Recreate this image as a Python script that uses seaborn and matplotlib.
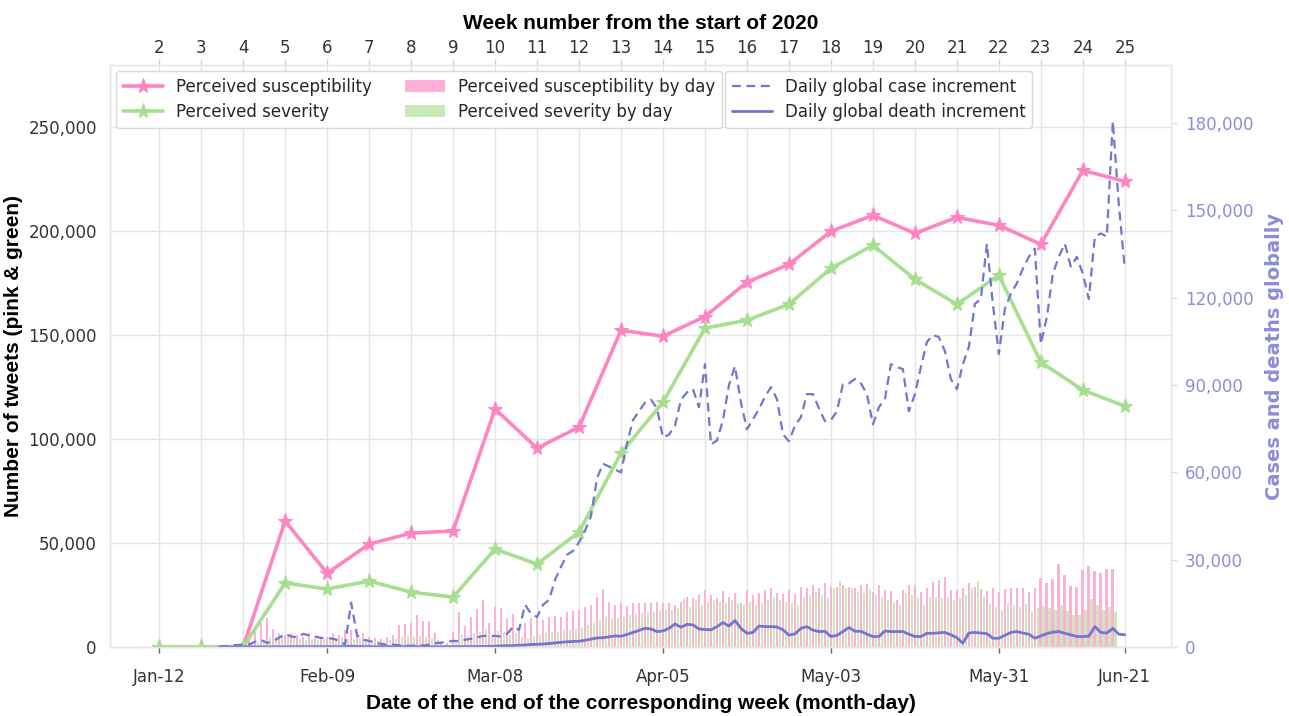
# Perceived susceptibility / severity tweets vs global COVID-19 cases and deaths
import matplotlib as mpl
import matplotlib.pyplot as plt
import numpy as np
import pandas as pd
import seaborn as sns

# %% -- data ---------------------------------------------------------------- #
origin = pd.Timestamp('2020-01-12')

# weekly totals (week ends Jan-12 ... Jun-21, week numbers 2 ... 25)
week_numbers = list(range(2, 26))
week_end = pd.date_range('2020-01-12', '2020-06-21', freq='7D')
susc_weekly = [0, 0, 0, 60600, 35500, 49500, 54800, 55800, 114500, 95700, 105800, 152400,
               149500, 159000, 175500, 184100, 200000, 207700, 199000, 206700, 202900,
               193700, 229300, 224000]
sev_weekly = [0, 0, 0, 30800, 27900, 31700, 26400, 24000, 47100, 39900, 55300, 93300,
              117800, 153400, 157200, 164900, 182200, 193300, 176900, 164900, 178800,
              137000, 123600, 115900]

# tweets by day, Jan-27 ... Jun-19
bars_start = '2020-01-27'
susc_daily = [
    5000, 7400, 11400, 13800, 8500, 6600, 5800,
    6600, 5800, 5000, 6600, 4200, 4200, 5000,
    6600, 5800, 8000, 8200, 7400, 6600, 5000,
    4200, 3800, 5000, 5800, 10600, 11100, 11400,
    15400, 12700, 12700, 6600, 1800, 1800, 7400,
    17000, 10100, 14300, 18300, 22600, 11400, 19100,
    18600, 13800, 15700, 9800, 11400, 13800, 13800,
    13000, 14600, 14900, 14600, 16700, 17300, 17800,
    19100, 20200, 24200, 27700, 21800, 20200, 21000,
    19900, 21300, 21300, 21000, 21000, 21800, 21000,
    21000, 20200, 21800, 24200, 23700, 25000, 27400,
    25000, 23400, 26900, 24200, 25800, 21000, 27400,
    25000, 25800, 27400, 28200, 25800, 25300, 27400,
    25300, 29000, 28200, 29800, 28500, 30600, 29000,
    29000, 29800, 29000, 28500, 29800, 30100, 26600,
    29800, 27400, 26900, 22600, 27400, 29800, 29800,
    26600, 28200, 31400, 32200, 33800, 27400, 27400,
    28200, 30600, 29000, 27900, 27100, 28200, 26300,
    27700, 28200, 28200, 28500, 26600, 28200, 33100,
    30600, 32700, 39700, 34600, 29300, 29000, 37000,
    38900, 36500, 35700, 37500, 37300,
]
sev_daily = [
    1500, 2500, 3500, 4500, 5000, 5500, 5000,
    4500, 4000, 3500, 4000, 3500, 4000, 4500,
    4500, 5000, 4000, 3500, 4500, 4000, 3500,
    3000, 3000, 3500, 4000, 5000, 5500, 5000,
    5500, 5000, 4500, 3500, 1000, 1000, 3000,
    6000, 5500, 6500, 7000, 8000, 6000, 7500,
    7000, 6000, 6500, 5000, 4500, 5500, 5800,
    6600, 7000, 7400, 8000, 8200, 8700, 9000,
    10500, 11400, 13000, 14600, 14000, 14000, 14600,
    15400, 16000, 16200, 16800, 17000, 17400, 17800,
    17800, 18600, 23400, 19400, 22600, 20200, 21800,
    22600, 21800, 21000, 22600, 21000, 20200, 21800,
    20200, 21000, 22600, 23400, 22600, 21800, 21000,
    20200, 24200, 25000, 26600, 25000, 23400, 28200,
    31700, 28200, 28200, 26600, 25800, 27400, 25000,
    24200, 22600, 21800, 20200, 25800, 25000, 23400,
    20200, 24200, 24200, 23400, 24200, 22600, 23400,
    25000, 28200, 31700, 24200, 20500, 19400, 17800,
    21300, 20200, 19400, 20500, 16800, 19000, 19700,
    18600, 17800, 20200, 17300, 15400, 15400, 17800,
    22900, 20200, 17800, 19400, 16700,
]

# daily global increments, Jan-22 ... Jun-21
global_start = '2020-01-22'
case_daily = [
    100, 300, 500, 700, 800, 900, 1800,
    2400, 1400, 2000, 3200, 4500, 3600, 3400,
    4500, 4000, 3600, 3100, 3200, 2800, 2200,
    800, 15200, 4000, 2500, 2100, 1500, 1100,
    700, 800, 600, 500, 400, 600, 500,
    800, 1300, 1500, 1800, 2100, 2000, 2500,
    2800, 3300, 3800, 3900, 3800, 3600, 4500,
    6900, 5900, 14500, 11500, 10300, 14500, 16200,
    23100, 27600, 31700, 33000, 36000, 40000, 45000,
    58000, 63000, 62000, 61000, 60000, 70000, 78000,
    81000, 84000, 85000, 82000, 72000, 73000, 76000,
    85000, 87500, 88600, 82400, 97200, 69600, 71000,
    78000, 90000, 96500, 84000, 74800, 78300, 81700,
    86000, 89300, 85200, 73100, 70700, 76000, 79000,
    86900, 86900, 82000, 77600, 78000, 81000, 90300,
    90600, 92100, 90600, 86900, 76500, 82400, 85200,
    97200, 96200, 95500, 81000, 86900, 96200, 104800,
    107200, 106500, 101700, 92100, 88600, 97200, 103100,
    117900, 119600, 138600, 117900, 100700, 116200, 121400,
    125000, 130000, 134100, 136900, 104100, 113400, 128300,
    134100, 138600, 130700, 134100, 128300, 119600, 141000,
    142100, 141000, 180700, 152000, 130000,
]
death_daily = [
    10, 15, 20, 25, 25, 30, 40,
    40, 40, 45, 45, 50, 60, 65,
    70, 75, 85, 90, 90, 100, 110,
    120, 250, 140, 145, 140, 100, 140,
    120, 115, 120, 110, 100, 90, 80,
    60, 70, 70, 80, 90, 100, 110,
    120, 150, 200, 230, 250, 400, 450,
    500, 600, 700, 850, 950, 1000, 1200,
    1400, 1600, 1800, 1900, 2000, 2300, 2700,
    3100, 3200, 3500, 3800, 3700, 4300, 5000,
    5700, 6400, 6200, 5300, 5500, 6400, 7900,
    6800, 7800, 7600, 6200, 6000, 5900, 7000,
    8400, 7200, 9100, 6400, 4700, 5000, 7200,
    7000, 7000, 6900, 5900, 4100, 4500, 6400,
    7000, 5800, 5300, 5400, 3600, 4000, 5300,
    6700, 5400, 5400, 4400, 3600, 3600, 5500,
    5300, 5300, 5300, 4400, 3600, 3600, 4700,
    4700, 4900, 5000, 4200, 3200, 1300, 4800,
    5000, 4800, 4600, 3000, 3000, 4000, 5000,
    5300, 4800, 4400, 3000, 3800, 4600, 5100,
    5300, 4700, 4200, 3600, 3600, 3700, 7000,
    5000, 4800, 6400, 4400, 4200,
]

date_ticks = ['2020-01-12', '2020-02-09', '2020-03-08', '2020-04-05',
              '2020-05-03', '2020-05-31', '2020-06-21']
left_ticks = [0, 50000, 100000, 150000, 200000, 250000]
right_ticks = [0, 30000, 60000, 90000, 120000, 150000, 180000]

# %% -- x positions (days since Jan-12) ------------------------------------- #
week_x = (week_end - origin).days.values
bar_x = (pd.date_range(bars_start, periods=len(susc_daily)) - origin).days.values
glob_x = (pd.date_range(global_start, periods=len(case_daily)) - origin).days.values
date_x = (pd.to_datetime(date_ticks) - origin).days.values
date_lbl = [pd.Timestamp(d).strftime('%b-%d') for d in date_ticks]

# %% -- style --------------------------------------------------------------- #
sns.set_style('whitegrid')
mpl.rcParams['font.family'] = 'DejaVu Sans'

pink = '#ff85c2'
green = '#a6df8f'
pink_bar = '#ffb0d8'
green_bar = '#c9e9b8'
blue = '#7176cf'
blue_txt = '#8a8ed9'
grid_c = '#e4e4e4'
txt_c = '#333333'
label_font = dict(family='Liberation Sans', weight='bold', size=15, color='black')

fig = plt.figure(figsize=(12.89, 7.16), dpi=100)
ax = fig.add_axes([110 / 1289, 69 / 716, 1061 / 1289, 582 / 716])
ax2 = ax.twinx()

# daily bars
b1 = ax.bar(bar_x, susc_daily, width=0.45, color=pink_bar, linewidth=0,
            label='Perceived susceptibility by day', zorder=2)
b2 = ax.bar(bar_x + 0.5, sev_daily, width=0.45, color=green_bar, linewidth=0,
            label='Perceived severity by day', zorder=2)

# weekly lines
sns.lineplot(x=week_x, y=susc_weekly, ax=ax, color=pink, linewidth=2.6, marker='*',
             markersize=11, markeredgecolor=pink, zorder=4)
l1 = ax.lines[-1]
sns.lineplot(x=week_x, y=sev_weekly, ax=ax, color=green, linewidth=2.6, marker='*',
             markersize=11, markeredgecolor=green, zorder=4)
l2 = ax.lines[-1]
if ax.get_legend() is not None:
    ax.get_legend().remove()

# global cases / deaths on the right axis
sns.lineplot(x=glob_x, y=case_daily, ax=ax2, color=blue, linewidth=1.6,
             linestyle=(0, (4, 2.5)))
l3 = ax2.lines[-1]
sns.lineplot(x=glob_x, y=death_daily, ax=ax2, color=blue, linewidth=2.0)
l4 = ax2.lines[-1]

# %% -- axes ---------------------------------------------------------------- #
ax.set_xlim(-8.2, 168.7)
ax.set_ylim(0, 280000)
ax2.set_ylim(0, 200000)

fmt = mpl.ticker.StrMethodFormatter('{x:,.0f}')
ax.set_yticks(left_ticks)
ax.yaxis.set_major_formatter(fmt)
ax2.set_yticks(right_ticks)
ax2.yaxis.set_major_formatter(fmt)

# week numbers on top, also carrying the vertical grid
ax.set_xticks(week_x)
ax.set_xticklabels(week_numbers)
ax.tick_params(axis='x', bottom=False, labelbottom=False, top=True, labeltop=True,
               length=4, width=1, color='#cfcfcf', labelsize=12, labelcolor=txt_c, pad=2)
ax.xaxis.set_label_position('top')
ax.set_xlabel('Week number from the start of 2020', fontdict=label_font, labelpad=7)

ax.tick_params(axis='y', left=False, labelsize=12, labelcolor=txt_c, pad=6)
ax.set_ylabel('Number of tweets (pink & green)', fontdict=label_font, labelpad=4)

ax2.tick_params(axis='y', right=True, length=4, width=1, color='#dedede',
                labelsize=12, labelcolor=blue_txt, pad=6)
ax2.set_ylabel('Cases and deaths globally', color=blue_txt, fontsize=14,
               fontweight='bold', labelpad=8)
ax2.grid(False)

ax.grid(True, color=grid_c, linewidth=1)
ax.set_axisbelow(True)
for a in (ax, ax2):
    for s in a.spines.values():
        s.set_color('#e6e6e6')
        s.set_linewidth(1)

# dates on the bottom
sec = ax.secondary_xaxis('bottom')
sec.set_xticks(date_x, labels=date_lbl)
sec.tick_params(axis='x', bottom=True, length=4, width=1, color='#666666',
                labelsize=12, labelcolor=txt_c, pad=11)
sec.spines['bottom'].set_color('#e6e6e6')
sec.set_xlabel('Date of the end of the corresponding week (month-day)',
               fontdict=label_font, labelpad=6)

# %% -- legends ------------------------------------------------------------- #
leg_kw = dict(fontsize=12, frameon=True, framealpha=1, edgecolor='#d9d9d9',
              borderaxespad=0.35, handlelength=2.4, labelspacing=0.45)
leg1 = ax2.legend([l1, l2, b1, b2],
                  ['Perceived susceptibility', 'Perceived severity',
                   'Perceived susceptibility by day', 'Perceived severity by day'],
                  ncol=2, loc='upper left', bbox_to_anchor=(0.0, 1.0), **leg_kw)
ax2.add_artist(leg1)
ax2.legend([l3, l4], ['Daily global case increment', 'Daily global death increment'],
           loc='upper left', bbox_to_anchor=(0.574, 1.0), **leg_kw)

fig.savefig('out.png', dpi=100)
